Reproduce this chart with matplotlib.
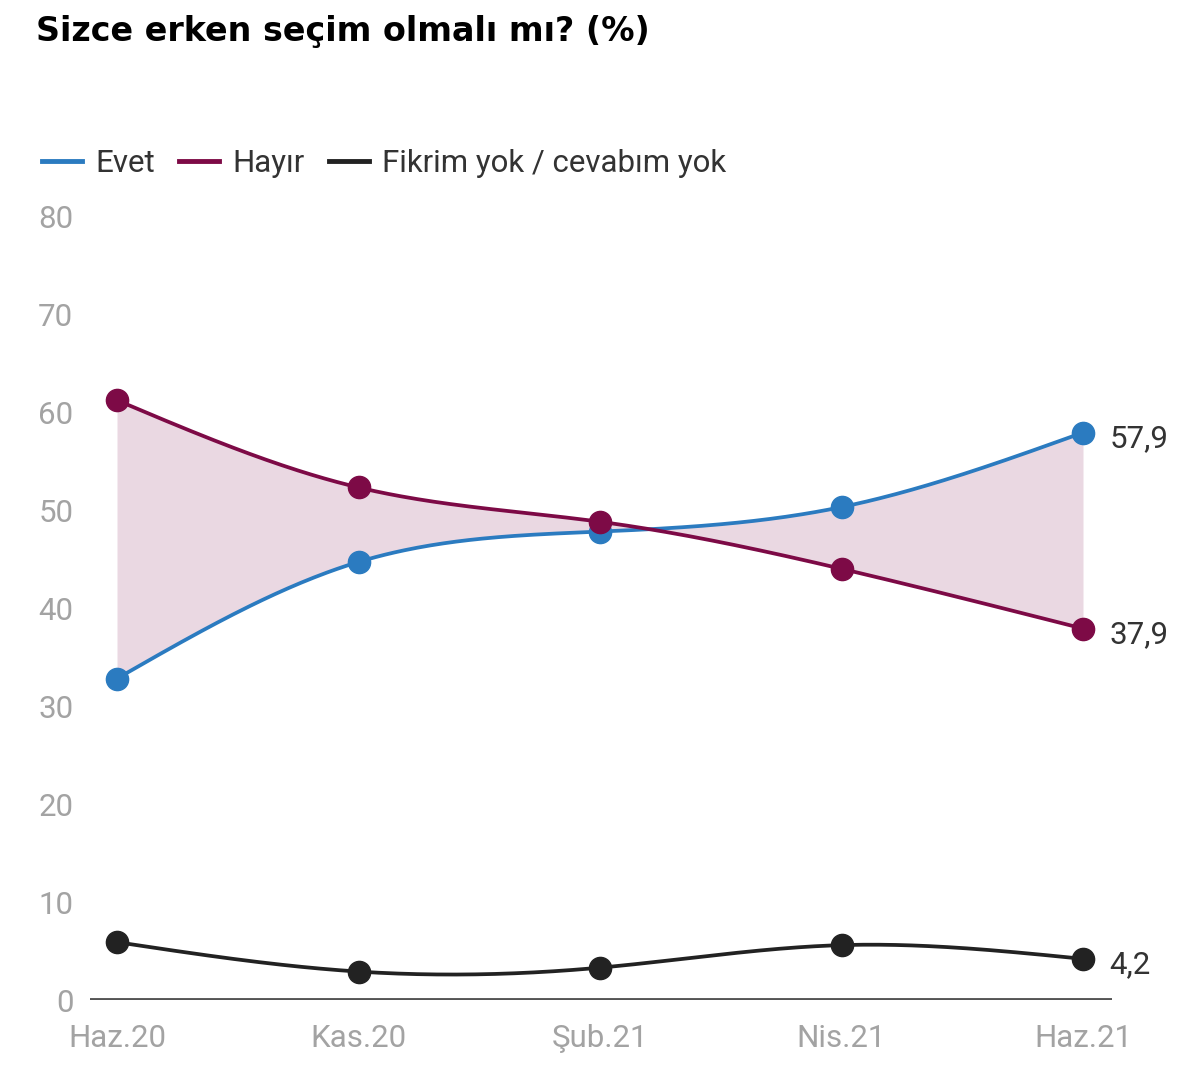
import numpy as np
import matplotlib.pyplot as plt
from matplotlib.lines import Line2D

# Data
months = ["Haz.20", "Kas.20", "Şub.21", "Nis.21", "Haz.21"]
evet = [32.8, 44.7, 47.8, 50.3, 57.9]
hayir = [61.2, 52.3, 48.8, 44.0, 37.9]
fikrim_yok = [5.9, 2.9, 3.3, 5.6, 4.2]

labels = ["Evet", "Hayır", "Fikrim yok / cevabım yok"]
colors = ["#2b7bc0", "#7d0a46", "#222222"]
fill_color = "#ead8e2"

plt.rcParams["font.family"] = ["Roboto", "DejaVu Sans"]


def natural_spline(x, y, n=300):
    # natural cubic spline, only for drawing a smooth line through the points
    x = np.asarray(x, float)
    y = np.asarray(y, float)
    k = len(x)
    h = np.diff(x)
    A = np.zeros((k, k))
    b = np.zeros(k)
    A[0, 0] = A[-1, -1] = 1
    for i in range(1, k - 1):
        A[i, i - 1] = h[i - 1]
        A[i, i] = 2 * (h[i - 1] + h[i])
        A[i, i + 1] = h[i]
        b[i] = 6 * ((y[i + 1] - y[i]) / h[i] - (y[i] - y[i - 1]) / h[i - 1])
    m = np.linalg.solve(A, b)
    xs = np.linspace(x[0], x[-1], n)
    idx = np.clip(np.searchsorted(x, xs) - 1, 0, k - 2)
    x0, x1 = x[idx], x[idx + 1]
    hh = x1 - x0
    t0, t1 = x1 - xs, xs - x0
    ys = (m[idx] * t0**3 / (6 * hh) + m[idx + 1] * t1**3 / (6 * hh)
          + (y[idx] / hh - m[idx] * hh / 6) * t0
          + (y[idx + 1] / hh - m[idx + 1] * hh / 6) * t1)
    return xs, ys


fig = plt.figure(figsize=(12, 10.79), dpi=100)
ax = fig.add_axes([90 / 1200, 1 - 1000 / 1079, 1022 / 1200, 784 / 1079])

x = np.arange(len(months))
xs, ye = natural_spline(x, evet)
_, yh = natural_spline(x, hayir)
_, yf = natural_spline(x, fikrim_yok)

ax.fill_between(xs, ye, yh, color=fill_color, lw=0, zorder=1)
for ys, vals, c in [(ye, evet, colors[0]), (yh, hayir, colors[1]), (yf, fikrim_yok, colors[2])]:
    ax.plot(xs, ys, color=c, lw=2.7, zorder=3, solid_capstyle="round")
    ax.plot(x, vals, "o", color=c, ms=16, zorder=4)
    ax.annotate(f"{vals[-1]:.1f}".replace(".", ","), (x[-1], vals[-1]),
                xytext=(19, -4), textcoords="offset points", va="center",
                ha="left", fontsize=22.5, color="#333333")

ax.axhline(0, color="#555555", lw=2.8, zorder=2)

ax.set_xlim(-27 / 241.5, 4 + 29 / 241.5)
ax.set_ylim(0, 80)
ax.set_yticks(range(0, 81, 10))
ax.set_xticks(x)
ax.set_xticklabels(months)
ax.tick_params(length=0, labelsize=22.5, labelcolor="#a3a3a3")
ax.tick_params(axis="y", pad=12)
ax.tick_params(axis="x", pad=17)
for s in ax.spines.values():
    s.set_visible(False)
ax.patch.set_alpha(0)

fig.text(36 / 1200, 1 - 32 / 1079, "Sizce erken seçim olmalı mı? (%)",
         fontsize=24, fontweight="black", family=["DejaVu Sans"],
         va="center", ha="left", color="#000000")

handles = [Line2D([0], [0], color=c, lw=3.5) for c in colors]
fig.legend(handles, labels, loc="center left", bbox_to_anchor=(14 / 1200, 1 - 163 / 1079),
           ncol=3, frameon=False, fontsize=22.5, handlelength=1.28, handletextpad=0.42,
           columnspacing=0.77, labelcolor="#333333")

fig.savefig("out.png", dpi=100, facecolor="white")
